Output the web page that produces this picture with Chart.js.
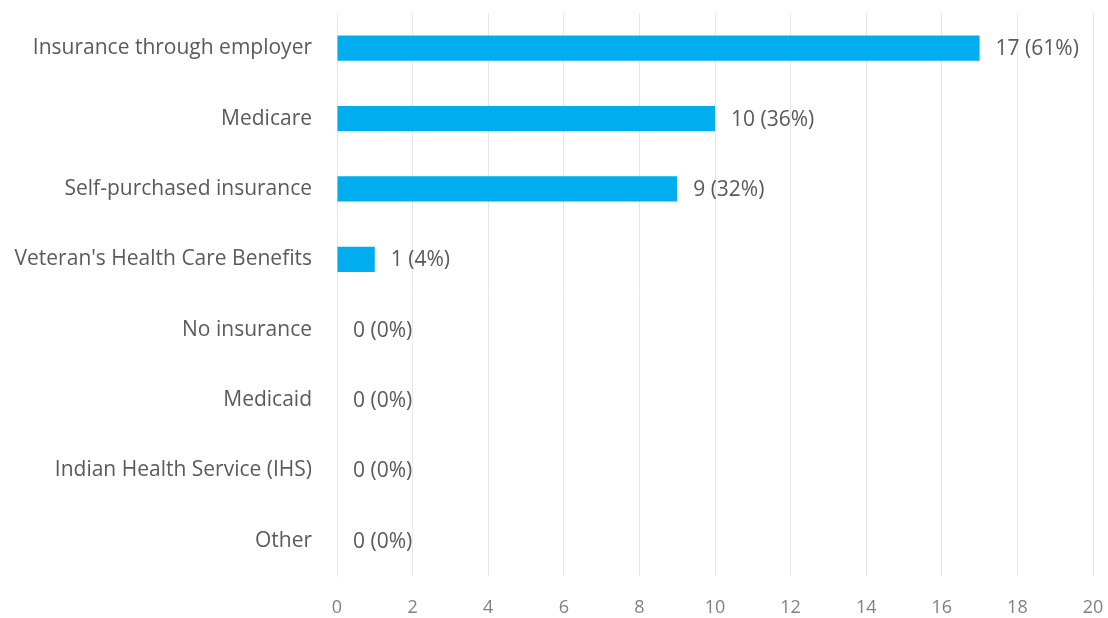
<!DOCTYPE html>
<html>
<head>
<meta charset="utf-8">
<script src="https://cdn.jsdelivr.net/npm/chart.js@4.4.0/dist/chart.umd.min.js"></script>
<style>
  html, body { margin: 0; padding: 0; background: #fff; }
  #wrap { width: 1108px; height: 618px; position: relative; }
</style>
</head>
<body>
<div id="wrap"><canvas id="chart"></canvas></div>
<script>
const categories = [
  'Insurance through employer',
  'Medicare',
  'Self-purchased insurance',
  "Veteran's Health Care Benefits",
  'No insurance',
  'Medicaid',
  'Indian Health Service (IHS)',
  'Other'
];
const counts = [17, 10, 9, 1, 0, 0, 0, 0];
const respondents = 28;
const xTicks = [0, 2, 4, 6, 8, 10, 12, 14, 16, 18, 20];

const FONT = "'Open Sans', sans-serif";

// value labels to the right of each bar: "17 (61%)"
const valueLabels = {
  id: 'valueLabels',
  afterDatasetsDraw(chart){
    const ctx = chart.ctx;
    const meta = chart.getDatasetMeta(0);
    ctx.save();
    ctx.font = `21px ${FONT}`;
    ctx.fillStyle = '#595959';
    ctx.textBaseline = 'middle';
    ctx.textAlign = 'left';
    meta.data.forEach((bar, i) => {
      const v = counts[i];
      const pct = Math.round(v / respondents * 100);
      ctx.fillText(`${v} (${pct}%)`, bar.x + 16, bar.y + 1);
    });
    ctx.restore();
  }
};

new Chart(document.getElementById('chart'), {
  type: 'bar',
  data: {
    labels: categories,
    datasets: [{
      data: counts,
      backgroundColor: '#00AEEF',
      borderWidth: 0,
      barPercentage: 0.36,
      categoryPercentage: 1
    }]
  },
  options: {
    indexAxis: 'y',
    responsive: true,
    maintainAspectRatio: false,
    animation: false,
    layout: { padding: { left: 0, right: 15, top: 13, bottom: 0 } },
    plugins: {
      legend: { display: false },
      tooltip: { enabled: false }
    },
    scales: {
      x: {
        min: 0,
        max: 20,
        afterBuildTicks: s => { s.ticks = xTicks.map(v => ({ value: v })); },
        afterFit: s => { s.height = 42; s.paddingLeft = 0; s.paddingRight = 0; },
        grid: { color: '#e6e6e6', drawTicks: false },
        border: { display: false },
        ticks: { color: '#808080', padding: 21, font: { family: FONT, size: 18 } }
      },
      y: {
        afterFit: s => { s.width = 337; s.paddingTop = 0; s.paddingBottom = 0; },
        grid: { display: false },
        border: { display: true, color: '#e6e6e6' },
        ticks: { color: '#5a5a5a', padding: 17, font: { family: FONT, size: 21 } }
      }
    }
  },
  plugins: [valueLabels]
});
</script>
</body>
</html>
